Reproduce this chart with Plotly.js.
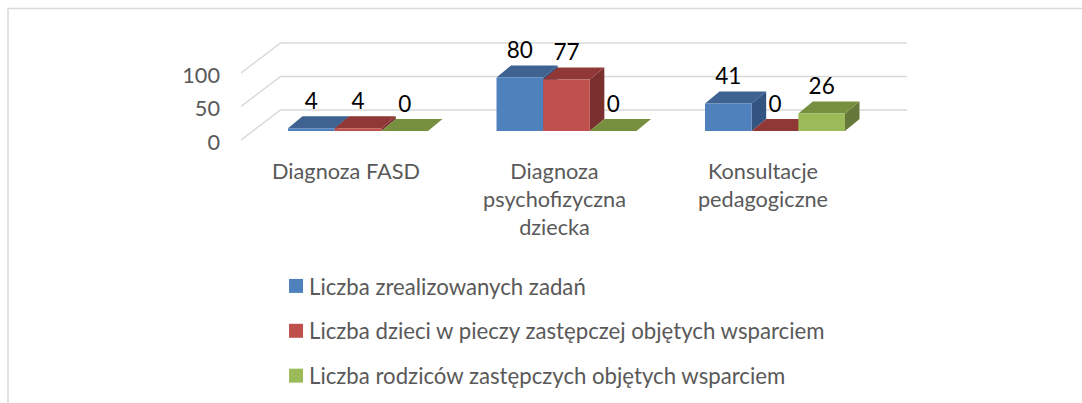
<!DOCTYPE html>
<html><head><meta charset="utf-8">
<script src="https://cdn.plot.ly/plotly-3.0.1.min.js"></script>
<style>html,body{margin:0;padding:0;background:#fff}#c{width:1082px;height:403px}</style></head>
<body><div id="c"></div>
<script>
const categories = ['Diagnoza FASD', 'Diagnoza<br>psychofizyczna<br>dziecka', 'Konsultacje<br>pedagogiczne'];
const seriesNames = ['Liczba zrealizowanych zadań', 'Liczba dzieci w pieczy zastępczej objętych wsparciem', 'Liczba rodziców zastępczych objętych wsparciem'];
const realizedTasks = [4, 80, 41];
const childrenSupported = [4, 77, 0];
const parentsSupported = [0, 0, 26];
const yTicks = [0, 50, 100];
const frontColors = ['#4F81BD', '#C0504D', '#9BBB59'];
const topColors = ['#3E6390', '#8F3836', '#76903F'];
const sideColors = ['#335480', '#7A302E', '#66793A'];

const allSeries = [realizedTasks, childrenSupported, parentsSupported];
const W = 1082, H = 403;
const L = 241, R = 907, T = 10, B = 146;      // plot box in px
const pxPerCat = 208.5, pxPerVal = 0.67;
const cat0 = 358, base0 = 131, floorFront = 140; // px of first group centre, bar floor, front floor edge
const bargap = 0.3285;
const barW = (1 - bargap) / 3;
const depthX = 14.5 / pxPerCat, depthY = 12 / pxPerVal;       // bar depth
const wallX = 39.5 / pxPerCat, wallY = 30 / pxPerVal;         // wall depth
const frontOffset = (floorFront - base0) / pxPerVal;          // front edge of floor sits below bars
const xMin = (L - cat0) / pxPerCat, xMax = (R - cat0) / pxPerCat;
const yMin = (base0 - B) / pxPerVal, yMax = (base0 - T) / pxPerVal;
const labelLift = 25 / pxPerVal, labelShift = 12 / pxPerCat, tickDrop = 2 / pxPerVal;
const textFont = 'Lato', textSize = 21.7, legendSize = 22.2, valueSize = 22.5;

const traces = [];
// wall / floor gridlines
const gx = [], gy = [];
yTicks.forEach(v => {
  const y = v - frontOffset;
  gx.push(xMin, xMin + wallX, xMax, null);
  gy.push(y, y + wallY, y + wallY, null);
});
traces.push({type:'scatter', mode:'lines', x:gx, y:gy, line:{color:'#D9D9D9', width:1.5}, showlegend:false, hoverinfo:'skip', cliponaxis:false, zorder:0});

allSeries.forEach((vals, s) => {
  const tx = [], ty = [], sx = [], sy = [];
  vals.forEach((v, i) => {
    const x0 = i + (s - 1.5) * barW, x1 = x0 + barW;
    tx.push(x0, x1, x1 + depthX, x0 + depthX, x0, null);
    ty.push(v, v, v + depthY, v + depthY, v, null);
    if (v > 0) {
      sx.push(x1, x1 + depthX, x1 + depthX, x1, x1, null);
      sy.push(0, depthY, v + depthY, v, 0, null);
    }
  });
  const z = 1 + s * 2;
  traces.push({type:'scatter', mode:'lines', x:sx, y:sy, fill:'toself', fillcolor:sideColors[s], line:{width:0}, showlegend:false, hoverinfo:'skip', zorder:z});
  traces.push({type:'scatter', mode:'lines', x:tx, y:ty, fill:'toself', fillcolor:topColors[s], line:{width:0}, showlegend:false, hoverinfo:'skip', zorder:z});
  traces.push({type:'bar', name:seriesNames[s], x:vals.map((_, i) => i), y:vals, legendgroup:'g'+s,
    marker:{color:frontColors[s], line:{width:0}}, hoverinfo:'skip', zorder:z + 1});
});
allSeries.forEach((vals, s) => {
  traces.push({type:'scatter', mode:'text', x:vals.map((_, i) => i + (s - 1) * barW), y:vals.map(v => v + labelLift),
    text:vals.map(String), textposition:'middle center', textfont:{family:textFont, size:valueSize, color:'#000'},
    showlegend:false, hoverinfo:'skip', cliponaxis:false, zorder:10});
});

const px = p => (p - L) / (R - L);
const py = p => (B - p) / (B - T);
const layout = {
  width:W, height:H, margin:{l:L, r:W - R, t:T, b:H - B, autoexpand:false},
  paper_bgcolor:'#fff', plot_bgcolor:'rgba(0,0,0,0)', barmode:'group', bargap:bargap, showlegend:true,
  font:{family:textFont, color:'#595959', size:textSize},
  xaxis:{range:[xMin, xMax], tickvals:categories.map((_, i) => i - labelShift), ticktext:categories,
    showgrid:false, zeroline:false, showline:false, ticks:'', ticklabelstandoff:10, tickangle:0, fixedrange:true,
    tickfont:{family:textFont, size:textSize, color:'#595959'}},
  yaxis:{range:[yMin, yMax], tickvals:yTicks.map(v => v - frontOffset - tickDrop), ticktext:yTicks.map(String),
    showgrid:false, zeroline:false, showline:false, ticks:'', ticklabelstandoff:20, fixedrange:true,
    tickfont:{family:textFont, size:textSize, color:'#595959'}},
  legend:{x:px(269), xanchor:'left', y:py(265), yanchor:'top', orientation:'v', traceorder:'grouped', tracegroupgap:13,
    bgcolor:'rgba(0,0,0,0)', font:{family:textFont, size:legendSize, color:'#595959'}},
  shapes:[
    {type:'line', xref:'paper', yref:'paper', x0:px(8), x1:px(W), y0:py(8.5), y1:py(8.5), line:{color:'#D9D9D9', width:1.5}},
    {type:'line', xref:'paper', yref:'paper', x0:px(8), x1:px(8), y0:py(8), y1:py(H), line:{color:'#D9D9D9', width:1.5}}
  ]
};
Plotly.newPlot('c', traces, layout, {displayModeBar:false, staticPlot:true}).then(() => {
  // legend keys in the reference are slightly larger and closer to their text
  document.querySelectorAll('#c .legend .legendsymbols').forEach(g => g.setAttribute('transform', 'translate(3.7,0) scale(1.167)'));
});
</script></body></html>
